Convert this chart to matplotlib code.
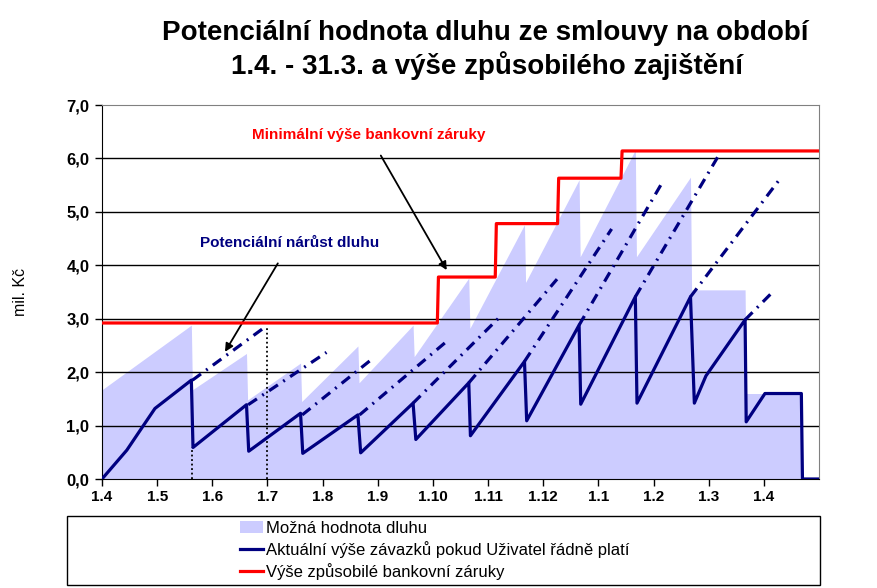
import numpy as np
import matplotlib
matplotlib.use('Agg')
import matplotlib.pyplot as plt
from matplotlib.patches import Patch, Rectangle
from matplotlib.lines import Line2D

plt.rcParams['font.family'] = ['Liberation Sans', 'DejaVu Sans']

# month index (0 = 1.4.) -> labels
month_labels = ['1.4', '1.5', '1.6', '1.7', '1.8', '1.9', '1.10', '1.11', '1.12',
                '1.1', '1.2', '1.3', '1.4']
y_labels = ['0,0', '1,0', '2,0', '3,0', '4,0', '5,0', '6,0', '7,0']

# Možná hodnota dluhu (area)
debt_x = [0, 1.62, 1.64, 2.62, 2.64, 3.60, 3.62, 4.64, 4.66, 5.64, 5.66, 6.65, 6.67,
          7.66, 7.68, 8.65, 8.67, 9.67, 9.69, 10.67, 10.69, 11.66, 11.68, 12.68, 12.70, 13]
debt_y = [1.67, 2.88, 1.67, 2.35, 1.48, 2.17, 1.45, 2.49, 1.80, 2.88, 2.29, 3.76, 2.82,
          4.76, 3.68, 5.60, 4.16, 6.16, 4.16, 5.65, 3.54, 3.54, 1.60, 1.60, 0, 0]

# Aktuální výše závazků
act_x = [0, 0.45, 0.75, 0.96, 1.62, 1.65, 2.62, 2.66, 3.60, 3.64, 4.64, 4.69, 5.64, 5.69,
         6.65, 6.68, 7.66, 7.70, 8.65, 8.68, 9.67, 9.70, 10.67, 10.74, 10.95, 11.66, 11.68,
         12.02, 12.68, 12.70, 13]
act_y = [0, 0.54, 1.00, 1.32, 1.85, 0.59, 1.39, 0.52, 1.23, 0.48, 1.20, 0.49, 1.42, 0.74,
         1.80, 0.81, 2.20, 1.09, 2.88, 1.40, 3.41, 1.42, 3.41, 1.42, 1.93, 2.98, 1.07,
         1.60, 1.60, 0, 0]

# Výše způsobilé bankovní záruky
guar_x = [0, 6.08, 6.10, 7.13, 7.15, 8.26, 8.28, 9.41, 9.43, 13]
guar_y = [2.92, 2.92, 3.78, 3.78, 4.78, 4.78, 5.63, 5.63, 6.14, 6.14]

# Potenciální nárůst dluhu (start/end of each dash-dot segment)
pot_x0 = [1.64, 2.65, 3.63, 4.67, 5.64, 6.65, 7.66, 8.65, 9.67, 10.67, 11.66]
pot_y0 = [1.85, 1.39, 1.20, 1.20, 1.42, 1.80, 2.20, 2.88, 3.41, 3.41, 2.98]
pot_x1 = [2.99, 4.07, 4.89, 6.30, 7.20, 8.25, 9.24, 10.17, 11.20, 12.28, 12.16]
pot_y1 = [2.87, 2.37, 2.24, 2.62, 3.02, 3.74, 4.68, 5.57, 6.09, 5.60, 3.50]

# dotted markers
vline_x = [1.64, 3.00]
vline_top = [0.59, 2.87]

NAVY = '#000080'
FILL = '#CCCCFF'

fig = plt.figure(figsize=(8.78, 5.88), dpi=100)
ax = fig.add_axes([102 / 878, 1 - 479 / 588, 717 / 878, 374 / 588])

ax.fill_between(debt_x, debt_y, 0, color=FILL, linewidth=0, zorder=1)
for yv in range(1, 7):
    ax.axhline(yv, color='black', lw=1, zorder=2)

for x0, y0, x1, y1 in zip(pot_x0, pot_y0, pot_x1, pot_y1):
    ax.plot([x0, x1], [y0, y1], color=NAVY, lw=2.3,
            linestyle=(0, (3.3, 2.0, 0.6, 2.0)), zorder=3)

for xv, top in zip(vline_x, vline_top):
    ax.plot([xv, xv], [0, top], color='black', lw=1.3, linestyle=(0, (1, 1.5)), zorder=3)

ax.plot(act_x, act_y, color=NAVY, lw=2.3, zorder=4)
ax.plot(guar_x, guar_y, color='#FF0000', lw=2.3, zorder=5)

ax.set_xlim(0, 13)
ax.set_ylim(0, 7)
ax.set_xticks(range(len(month_labels)))
ax.set_xticklabels(month_labels, fontsize=11, fontweight='bold')
ax.set_yticks(range(len(y_labels)))
ax.set_yticklabels(y_labels, fontsize=12, fontweight='bold')
ax.tick_params(direction='out', length=5, width=1, color='black', pad=4)
ax.tick_params(axis='x', pad=3)
for s in ['top', 'right']:
    ax.spines[s].set_color('#808080')
for s in ['left', 'bottom']:
    ax.spines[s].set_color('black')
ax.set_ylabel('mil. Kč', fontsize=11.5, labelpad=28)

# annotations
ax.annotate('Minimální výše bankovní záruky', xy=(6.25, 3.91), xytext=(4.84, 6.44),
            color='#FF0000', fontsize=11, fontweight='bold', ha='center', va='center',
            arrowprops=dict(arrowstyle='-|>', color='black', lw=1.3,
                            shrinkA=9, shrinkB=0, mutation_scale=12))
ax.annotate('Potenciální nárůst dluhu', xy=(2.23, 2.38), xytext=(3.41, 4.42),
            color=NAVY, fontsize=11, fontweight='bold', ha='center', va='center',
            arrowprops=dict(arrowstyle='-|>', color='black', lw=1.3,
                            shrinkA=9, shrinkB=0, mutation_scale=12))

fig.text(485 / 878, 1 - 33 / 588, 'Potenciální hodnota dluhu ze smlouvy na období',
         ha='center', va='center', fontsize=20, fontweight='bold')
fig.text(487 / 878, 1 - 66 / 588, '1.4. - 31.3. a výše způsobilého zajištění',
         ha='center', va='center', fontsize=20, fontweight='bold')

# legend box
fig.patches.append(Rectangle((67 / 878, 1 - 585 / 588), 753 / 878, 69 / 588,
                             transform=fig.transFigure, fill=False,
                             edgecolor='black', lw=1))
handles = [Patch(facecolor=FILL, edgecolor='none'),
           Line2D([0], [0], color=NAVY, lw=2.3),
           Line2D([0], [0], color='#FF0000', lw=2.3)]
names = ['Možná hodnota dluhu',
         'Aktuální výše závazků pokud Uživatel řádně platí',
         'Výše způsobilé bankovní záruky']
fig.legend(handles, names, loc='upper left', bbox_to_anchor=(230 / 878, 1 - 511 / 588),
           frameon=False, fontsize=12, borderpad=0.1, handlelength=1.4,
           handletextpad=0.15, labelspacing=0.3)

fig.savefig('out.png', dpi=100)
